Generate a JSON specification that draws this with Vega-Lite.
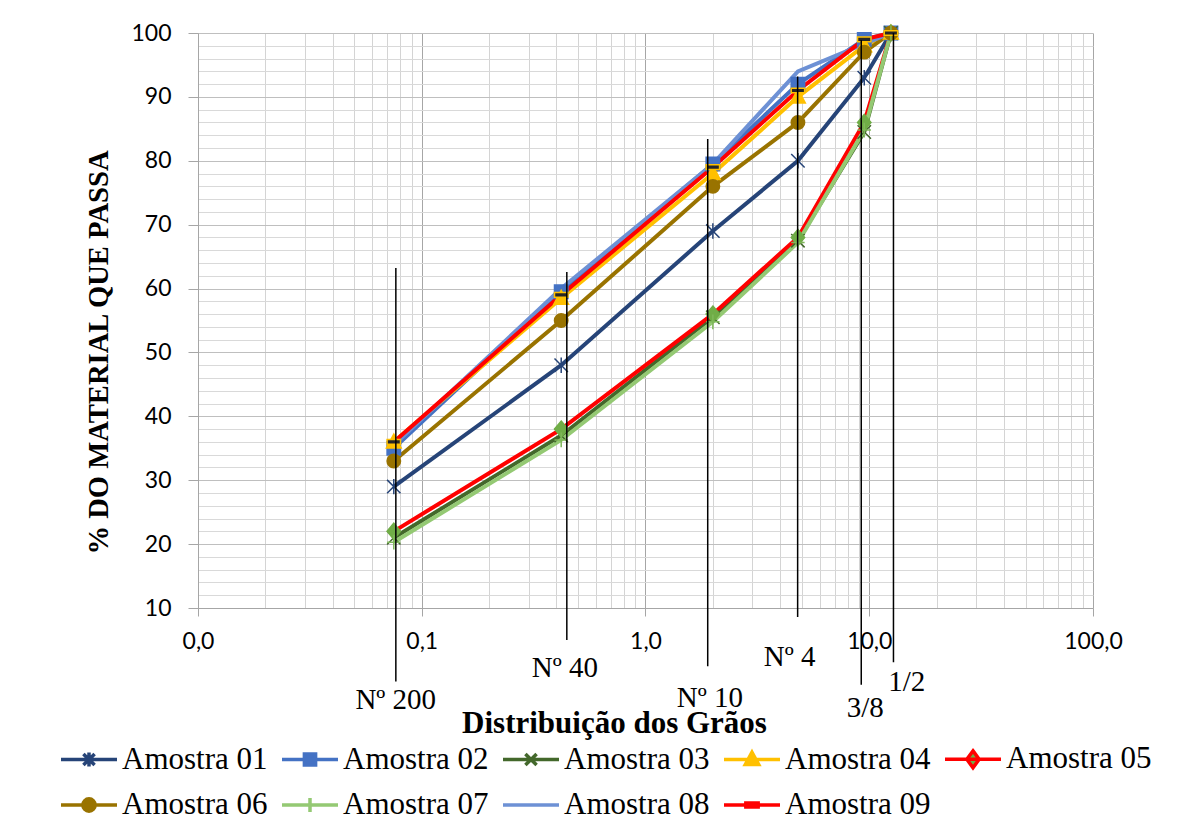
{
  "$schema": "https://vega.github.io/schema/vega-lite/v6.json",
  "autosize": {"type": "none"},
  "padding": {"left": 198, "top": 33, "right": 89, "bottom": 208},
  "width": 895,
  "height": 575,
  "background": "white",
  "data": {
    "values": [
      {"tipo": "amostra", "serie": "Amostra 01", "abertura": 0.075, "passante": 29},
      {"tipo": "amostra", "serie": "Amostra 01", "abertura": 0.42, "passante": 48},
      {"tipo": "amostra", "serie": "Amostra 01", "abertura": 2.0, "passante": 69},
      {"tipo": "amostra", "serie": "Amostra 01", "abertura": 4.8, "passante": 80},
      {"tipo": "amostra", "serie": "Amostra 01", "abertura": 9.5, "passante": 93},
      {"tipo": "amostra", "serie": "Amostra 01", "abertura": 12.5, "passante": 100},
      {"tipo": "amostra", "serie": "Amostra 02", "abertura": 0.075, "passante": 35},
      {"tipo": "amostra", "serie": "Amostra 02", "abertura": 0.42, "passante": 59.5},
      {"tipo": "amostra", "serie": "Amostra 02", "abertura": 2.0, "passante": 79.5},
      {"tipo": "amostra", "serie": "Amostra 02", "abertura": 4.8, "passante": 92},
      {"tipo": "amostra", "serie": "Amostra 02", "abertura": 9.5, "passante": 99},
      {"tipo": "amostra", "serie": "Amostra 02", "abertura": 12.5, "passante": 100},
      {"tipo": "amostra", "serie": "Amostra 03", "abertura": 0.075, "passante": 21},
      {"tipo": "amostra", "serie": "Amostra 03", "abertura": 0.42, "passante": 37},
      {"tipo": "amostra", "serie": "Amostra 03", "abertura": 2.0, "passante": 55.5},
      {"tipo": "amostra", "serie": "Amostra 03", "abertura": 4.8, "passante": 67.5},
      {"tipo": "amostra", "serie": "Amostra 03", "abertura": 9.5, "passante": 84.5},
      {"tipo": "amostra", "serie": "Amostra 03", "abertura": 12.5, "passante": 100},
      {"tipo": "amostra", "serie": "Amostra 04", "abertura": 0.075, "passante": 36},
      {"tipo": "amostra", "serie": "Amostra 04", "abertura": 0.42, "passante": 58.5},
      {"tipo": "amostra", "serie": "Amostra 04", "abertura": 2.0, "passante": 78},
      {"tipo": "amostra", "serie": "Amostra 04", "abertura": 4.8, "passante": 90},
      {"tipo": "amostra", "serie": "Amostra 04", "abertura": 9.5, "passante": 98},
      {"tipo": "amostra", "serie": "Amostra 04", "abertura": 12.5, "passante": 100},
      {"tipo": "amostra", "serie": "Amostra 05", "abertura": 0.075, "passante": 22},
      {"tipo": "amostra", "serie": "Amostra 05", "abertura": 0.42, "passante": 38},
      {"tipo": "amostra", "serie": "Amostra 05", "abertura": 2.0, "passante": 56},
      {"tipo": "amostra", "serie": "Amostra 05", "abertura": 4.8, "passante": 68},
      {"tipo": "amostra", "serie": "Amostra 05", "abertura": 9.5, "passante": 86},
      {"tipo": "amostra", "serie": "Amostra 05", "abertura": 12.5, "passante": 100},
      {"tipo": "amostra", "serie": "Amostra 06", "abertura": 0.075, "passante": 33},
      {"tipo": "amostra", "serie": "Amostra 06", "abertura": 0.42, "passante": 55},
      {"tipo": "amostra", "serie": "Amostra 06", "abertura": 2.0, "passante": 76},
      {"tipo": "amostra", "serie": "Amostra 06", "abertura": 4.8, "passante": 86},
      {"tipo": "amostra", "serie": "Amostra 06", "abertura": 9.5, "passante": 97},
      {"tipo": "amostra", "serie": "Amostra 06", "abertura": 12.5, "passante": 100},
      {"tipo": "amostra", "serie": "Amostra 07", "abertura": 0.075, "passante": 20.3},
      {"tipo": "amostra", "serie": "Amostra 07", "abertura": 0.42, "passante": 36.3},
      {"tipo": "amostra", "serie": "Amostra 07", "abertura": 2.0, "passante": 54.8},
      {"tipo": "amostra", "serie": "Amostra 07", "abertura": 4.8, "passante": 67.2},
      {"tipo": "amostra", "serie": "Amostra 07", "abertura": 9.5, "passante": 84.8},
      {"tipo": "amostra", "serie": "Amostra 07", "abertura": 12.5, "passante": 100},
      {"tipo": "amostra", "serie": "Amostra 08", "abertura": 0.075, "passante": 35.5},
      {"tipo": "amostra", "serie": "Amostra 08", "abertura": 0.42, "passante": 60},
      {"tipo": "amostra", "serie": "Amostra 08", "abertura": 2.0, "passante": 79.5},
      {"tipo": "amostra", "serie": "Amostra 08", "abertura": 4.8, "passante": 94},
      {"tipo": "amostra", "serie": "Amostra 08", "abertura": 9.5, "passante": 98.3},
      {"tipo": "amostra", "serie": "Amostra 08", "abertura": 12.5, "passante": 100},
      {"tipo": "amostra", "serie": "Amostra 09", "abertura": 0.075, "passante": 36},
      {"tipo": "amostra", "serie": "Amostra 09", "abertura": 0.42, "passante": 59},
      {"tipo": "amostra", "serie": "Amostra 09", "abertura": 2.0, "passante": 79},
      {"tipo": "amostra", "serie": "Amostra 09", "abertura": 4.8, "passante": 91},
      {"tipo": "amostra", "serie": "Amostra 09", "abertura": 9.5, "passante": 99},
      {"tipo": "amostra", "serie": "Amostra 09", "abertura": 12.5, "passante": 100},
      {"tipo": "peneira", "peneira": "Nº 200", "abertura": 0.0766, "passante": 63.2, "passante2": -1.5},
      {"tipo": "peneira", "peneira": "Nº 40", "abertura": 0.445, "passante": 62.6, "passante2": 5.0},
      {"tipo": "peneira", "peneira": "Nº 10", "abertura": 1.897, "passante": 83.4, "passante2": 0.9},
      {"tipo": "peneira", "peneira": "Nº 4", "abertura": 4.786, "passante": 93.2, "passante2": 8.6},
      {"tipo": "peneira", "peneira": "3/8", "abertura": 9.21, "passante": 98.9, "passante2": -2.0},
      {"tipo": "peneira", "peneira": "1/2", "abertura": 12.83, "passante": 100, "passante2": 1.5},
      {"tipo": "rotulo", "peneira": "Nº 200", "abertura": 0.0765, "passante": -4.4},
      {"tipo": "rotulo", "peneira": "Nº 40", "abertura": 0.436, "passante": 0.6},
      {"tipo": "rotulo", "peneira": "Nº 10", "abertura": 1.94, "passante": -4.1},
      {"tipo": "rotulo", "peneira": "Nº 4", "abertura": 4.41, "passante": 2.3},
      {"tipo": "rotulo", "peneira": "3/8", "abertura": 9.6, "passante": -5.6},
      {"tipo": "rotulo", "peneira": "1/2", "abertura": 14.7, "passante": -1.6}
    ]
  },
  "encoding": {
    "x": {
      "field": "abertura",
      "type": "quantitative",
      "scale": {"type": "log", "domain": [0.01, 100], "nice": false},
      "axis": {
        "title": "Distribuição dos Grãos",
        "titleFont": "Liberation Serif",
        "titleFontSize": 31,
        "titleFontWeight": "bold",
        "titleColor": "black",
        "titleX": 416,
        "titleY": 124,
        "titleBaseline": "alphabetic",
        "titleAlign": "center",
        "values": [0.01, 0.02, 0.03, 0.04, 0.05, 0.06, 0.07, 0.08, 0.09, 0.1, 0.2, 0.3, 0.4, 0.5, 0.6, 0.7, 0.8, 0.9, 1, 2, 3, 4, 5, 6, 7, 8, 9, 10, 20, 30, 40, 50, 60, 70, 80, 90, 100],
        "labelExpr": "abs(log(datum.value)/LN10 - round(log(datum.value)/LN10)) < 0.001 ? replace(format(datum.value, '.1f'), '.', ',') : ''",
        "labelFont": "Lato",
        "labelFontSize": 23,
        "labelColor": "black",
        "labelPadding": 14,
        "labelOverlap": false,
        "labelFlush": false,
        "labelBound": false,
        "tickSize": 8,
        "tickColor": {"condition": {"test": "abs(log(datum.value)/LN10 - round(log(datum.value)/LN10)) < 0.001", "value": "#A6A6A6"}, "value": "transparent"},
        "grid": true,
        "gridColor": {"condition": {"test": "abs(log(datum.value)/LN10 - round(log(datum.value)/LN10)) < 0.001", "value": "#A6A6A6"}, "value": "#D4D4D4"},
        "gridWidth": 1,
        "domainColor": "#A6A6A6"
      }
    },
    "y": {
      "field": "passante",
      "type": "quantitative",
      "scale": {"domain": [10, 100], "nice": false, "zero": false},
      "axis": {
        "title": "% DO MATERIAL QUE PASSA",
        "titleFont": "Liberation Serif",
        "titleFontSize": 28.6,
        "titleFontWeight": "bold",
        "titleColor": "black",
        "titleX": -100,
        "titleY": 319,
        "titleAngle": -90,
        "titleAlign": "center",
        "titleBaseline": "middle",
        "values": [10, 12, 14, 16, 18, 20, 22, 24, 26, 28, 30, 32, 34, 36, 38, 40, 42, 44, 46, 48, 50, 52, 54, 56, 58, 60, 62, 64, 66, 68, 70, 72, 74, 76, 78, 80, 82, 84, 86, 88, 90, 92, 94, 96, 98, 100],
        "labelExpr": "datum.value % 10 === 0 ? datum.label : ''",
        "labelFont": "Lato",
        "labelFontSize": 23,
        "labelColor": "black",
        "labelPadding": 17,
        "labelOverlap": false,
        "labelBound": false,
        "tickSize": 10,
        "tickColor": {"condition": {"test": "datum.value % 10 === 0", "value": "#A6A6A6"}, "value": "transparent"},
        "grid": true,
        "gridColor": {"condition": {"test": "datum.value % 10 === 0", "value": "#BFBFBF"}, "value": "#D9D9D9"},
        "gridWidth": 1,
        "domainColor": "#A6A6A6"
      }
    }
  },
  "layer": [
    {
      "transform": [{"filter": "datum.tipo === 'amostra'"}],
      "mark": {"type": "line", "strokeWidth": 4, "clip": false},
      "encoding": {
        "stroke": {
          "field": "serie",
          "type": "nominal",
          "scale": {
            "domain": ["Amostra 01", "Amostra 02", "Amostra 03", "Amostra 04", "Amostra 05", "Amostra 06", "Amostra 07", "Amostra 08", "Amostra 09"],
            "range": ["#264478", "#4472C4", "#43682B", "#FFC000", "#FF0000", "#997300", "#94C973", "#6D91D5", "#FF0000"]
          },
          "legend": null
        }
      }
    },
    {
      "transform": [{"filter": "datum.tipo === 'amostra' && datum.serie !== 'Amostra 08'"}],
      "mark": {"type": "point", "filled": true, "size": 180, "strokeWidth": 1.5, "opacity": 1},
      "encoding": {
        "shape": {
          "field": "serie",
          "type": "nominal",
          "scale": {
            "domain": ["Amostra 01", "Amostra 02", "Amostra 03", "Amostra 04", "Amostra 05", "Amostra 06", "Amostra 07", "Amostra 08", "Amostra 09"],
            "range": [
              "M-1,-1L1,1M-1,1L1,-1M0,-1.15V1.15",
              "M-1,-1H1V1H-1Z",
              "M-1,-1L1,1M-1,1L1,-1",
              "M0,-1.15L1.1,0.9H-1.1Z",
              "M0,-1.2L1,0L0,1.2L-1,0Z",
              "circle",
              "M-1,0H1M0,-1.1V1.1",
              "M0,0",
              "M-1,-0.35H1V0.35H-1Z"
            ]
          },
          "legend": null
        },
        "fill": {
          "field": "serie",
          "type": "nominal",
          "scale": {
            "domain": ["Amostra 01", "Amostra 02", "Amostra 03", "Amostra 04", "Amostra 05", "Amostra 06", "Amostra 07", "Amostra 08", "Amostra 09"],
            "range": ["#264478", "#4472C4", "#43682B", "#FFC000", "#70AD47", "#997300", "#94C973", "#6D91D5", "#262626"]
          },
          "legend": null
        },
        "stroke": {
          "field": "serie",
          "type": "nominal",
          "scale": {
            "domain": ["Amostra 01", "Amostra 02", "Amostra 03", "Amostra 04", "Amostra 05", "Amostra 06", "Amostra 07", "Amostra 08", "Amostra 09"],
            "range": ["#264478", "#4472C4", "#43682B", "#FFC000", "#70AD47", "#997300", "#7FB85A", "#6D91D5", "#FFC000"]
          },
          "legend": null
        }
      }
    },
    {
      "transform": [{"filter": "datum.tipo === 'amostra'"}],
      "mark": {"type": "point", "filled": true, "opacity": 0},
      "encoding": {
        "shape": {
          "field": "serie",
          "type": "nominal",
          "scale": {
            "domain": ["Amostra 01", "Amostra 02", "Amostra 03", "Amostra 04", "Amostra 05", "Amostra 06", "Amostra 07", "Amostra 08", "Amostra 09"],
            "range": [
              "M-1,0H1M-0.2,-0.2L0.2,0.2M-0.2,0.2L0.2,-0.2M0,-0.25V0.25",
              "M-1,0H1M-0.2,-0.2H0.2V0.2H-0.2Z",
              "M-1,0H1M-0.2,-0.2L0.2,0.2M-0.2,0.2L0.2,-0.2",
              "M-1,0H1M0,-0.26L0.24,0.18H-0.24Z",
              "M-1,0H1M0,-0.3L0.22,0L0,0.3L-0.22,0Z",
              "M-1,0H1M0.22,0A0.22,0.22,0,1,1,-0.22,0A0.22,0.22,0,1,1,0.22,0Z",
              "M-1,0H1M0,-0.25V0.25",
              "M-1,0H1",
              "M-1,0H1M-0.22,-0.07H0.22V0.07H-0.22Z"
            ]
          },
          "legend": {
            "title": null,
            "orient": "none",
            "legendX": -139,
            "legendY": 696,
            "direction": "horizontal",
            "columns": 5,
            "symbolSize": 3136,
            "symbolStrokeWidth": 3.5,
            "symbolOpacity": 1,
            "labelFont": "Liberation Serif",
            "labelFontSize": 31,
            "labelColor": "black",
            "labelLimit": 0,
            "labelOffset": 3,
            "columnPadding": 7,
            "rowPadding": -3
          }
        },
        "fill": {
          "field": "serie",
          "type": "nominal",
          "scale": {
            "domain": ["Amostra 01", "Amostra 02", "Amostra 03", "Amostra 04", "Amostra 05", "Amostra 06", "Amostra 07", "Amostra 08", "Amostra 09"],
            "range": ["#264478", "#4472C4", "#43682B", "#FFC000", "#70AD47", "#997300", "#94C973", "#6D91D5", "#FFC000"]
          },
          "legend": {
            "title": null,
            "orient": "none",
            "legendX": -139,
            "legendY": 696,
            "direction": "horizontal",
            "columns": 5,
            "symbolSize": 3136,
            "symbolStrokeWidth": 3.5,
            "symbolOpacity": 1,
            "labelFont": "Liberation Serif",
            "labelFontSize": 31,
            "labelColor": "black",
            "labelLimit": 0,
            "labelOffset": 3,
            "columnPadding": 7,
            "rowPadding": -3
          }
        },
        "stroke": {
          "field": "serie",
          "type": "nominal",
          "scale": {
            "domain": ["Amostra 01", "Amostra 02", "Amostra 03", "Amostra 04", "Amostra 05", "Amostra 06", "Amostra 07", "Amostra 08", "Amostra 09"],
            "range": ["#264478", "#4472C4", "#43682B", "#FFC000", "#FF0000", "#997300", "#94C973", "#6D91D5", "#FF0000"]
          },
          "legend": {
            "title": null,
            "orient": "none",
            "legendX": -139,
            "legendY": 696,
            "direction": "horizontal",
            "columns": 5,
            "symbolSize": 3136,
            "symbolStrokeWidth": 3.5,
            "symbolOpacity": 1,
            "labelFont": "Liberation Serif",
            "labelFontSize": 31,
            "labelColor": "black",
            "labelLimit": 0,
            "labelOffset": 3,
            "columnPadding": 7,
            "rowPadding": -3
          }
        }
      }
    },
    {
      "transform": [{"filter": "datum.tipo === 'peneira'"}],
      "mark": {"type": "rule", "color": "black", "strokeWidth": 1.5, "clip": false},
      "encoding": {
        "y2": {"field": "passante2"}
      }
    },
    {
      "transform": [{"filter": "datum.tipo === 'rotulo'"}],
      "mark": {"type": "text", "font": "Liberation Serif", "fontSize": 29, "color": "black", "align": "center", "baseline": "middle"},
      "encoding": {
        "text": {"field": "peneira"}
      }
    }
  ],
  "resolve": {
    "scale": {"shape": "independent", "fill": "independent", "stroke": "independent"}
  },
  "config": {
    "view": {"stroke": null},
    "legend": {"padding": 0}
  }
}
